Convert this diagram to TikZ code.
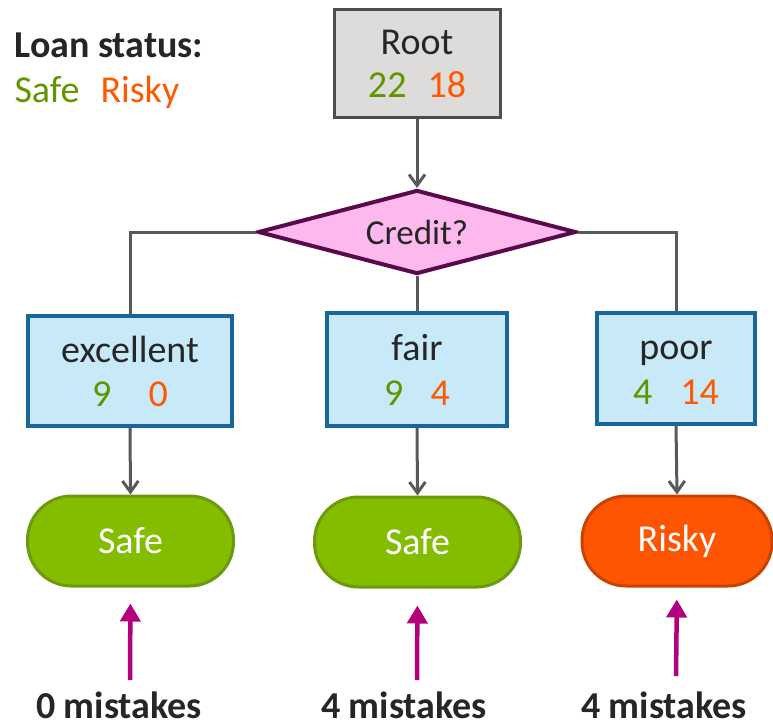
\documentclass[tikz,border=0pt]{standalone}
\usepackage{fontspec}
\setmainfont{Carlito}
\usetikzlibrary{shapes.geometric,arrows.meta}
\definecolor{txtdark}{HTML}{262626}
\definecolor{safegreen}{HTML}{5F9600}
\definecolor{riskyorange}{HTML}{FF5800}
\definecolor{rootfill}{HTML}{DDDCDB}
\definecolor{rootdraw}{HTML}{4D4D4D}
\definecolor{diafill}{HTML}{FDB9EE}
\definecolor{diadraw}{HTML}{5A0A4C}
\definecolor{boxfill}{HTML}{C8EAF8}
\definecolor{boxdraw}{HTML}{17679A}
\definecolor{termgreen}{HTML}{84BC00}
\definecolor{termgreendraw}{HTML}{6C9A0C}
\definecolor{termorange}{HTML}{FF5500}
\definecolor{termorangedraw}{HTML}{C94300}
\definecolor{magarrow}{HTML}{B3007D}
\definecolor{conncol}{HTML}{595959}
\newcommand{\toplinefix}{\vphantom{Rfl}}
\begin{document}
\begin{tikzpicture}[x=1pt,y=-1pt,
  bigfont/.style={font=\fontsize{38}{44}\selectfont},
  rootbox/.style={draw=rootdraw,fill=rootfill,line width=3pt,minimum width=166pt,minimum height=108pt,inner sep=0pt,align=center,text=txtdark,bigfont},
  attrbox/.style={draw=boxdraw,fill=boxfill,line width=3.5pt,inner sep=0pt,align=center,text=txtdark,bigfont},
  testshape/.style={diamond,aspect=3.79,draw=diadraw,fill=diafill,line width=4pt,minimum width=318pt,minimum height=84pt,inner sep=0pt,text=txtdark,font=\fontsize{35}{40}\selectfont},
  safeterm/.style={draw=termgreendraw,fill=termgreen,line width=3pt,rounded corners=44pt,minimum width=206pt,minimum height=90pt,text=white,bigfont},
  riskyterm/.style={draw=termorangedraw,fill=termorange,line width=3pt,rounded corners=44pt,minimum width=190pt,minimum height=90pt,text=white,bigfont},
  conn/.style={draw=conncol,line width=3pt},
  connarrow/.style={conn,-{Straight Barb[length=11pt,width=16pt,line width=3pt]}},
  magline/.style={draw=magarrow,line width=4.5pt,-{Triangle[length=18pt,width=20pt]}},
  mistlabel/.style={anchor=base,text=txtdark,font=\fontsize{38}{44}\selectfont\bfseries},
  legendtext/.style={anchor=base west,bigfont}]
\useasboundingbox (0,0) rectangle (773,726);
% legend
\node[legendtext,text=txtdark,font=\fontsize{38}{44}\selectfont\bfseries] (legtitle) at (11,57) {Loan status:};
\node[legendtext,text=safegreen] (legsafe) at (11,102) {Safe};
\node[legendtext,text=riskyorange] (legrisky) at (97,102) {Risky};
% tree nodes
\node[rootbox] (root) at (417,63.5) {\toplinefix Root\\[-1pt]{\color{safegreen}22}\hspace{21pt}{\color{riskyorange}18}};
\node[testshape] (credit) at (417,232) {Credit?};
\node[attrbox,minimum width=204pt,minimum height=110pt] (exc) at (130,371) {\toplinefix excellent\\[0pt]{\color{safegreen}9}\hspace{37pt}{\color{riskyorange}0}};
\node[attrbox,minimum width=180pt,minimum height=113pt] (fair) at (417,369.5) {\toplinefix fair\\[1pt]{\color{safegreen}9}\hspace{27pt}{\color{riskyorange}4}};
\node[attrbox,minimum width=158pt,minimum height=111pt] (poor) at (676,368.5) {\toplinefix poor\\[1pt]{\color{safegreen}4}\hspace{28pt}{\color{riskyorange}14}};
\node[safeterm] (safe1) at (130.5,541) {Safe};
\node[safeterm] (safe2) at (417.5,542) {Safe};
\node[riskyterm] (risky) at (677,541) {Risky};
% connectors
\draw[connarrow] (root.south) -- (credit.north);
\draw[conn] (credit.west) -| (exc.north);
\draw[conn] (credit.south) -- (fair.north);
\draw[conn] (credit.east) -| (poor.north);
\draw[connarrow] (exc.south) -- (safe1.north);
\draw[connarrow] (fair.south) -- (safe2.north);
\draw[connarrow] (poor.south) -- (risky.north);
% mistakes
\coordinate (m1) at (130,680);
\coordinate (m2) at (417,680);
\coordinate (m3) at (676,676);
\draw[magline,shorten >=16pt] (m1) -- (safe1.south);
\draw[magline,shorten >=17pt] (m2) -- (safe2.south);
\draw[magline,shorten >=12pt] (m3) -- (risky.south);
\node[mistlabel] (l1) at (119,718) {0 mistakes};
\node[mistlabel] (l2) at (404,718) {4 mistakes};
\node[mistlabel] (l3) at (664,718) {4 mistakes};
\end{tikzpicture}
\end{document}
